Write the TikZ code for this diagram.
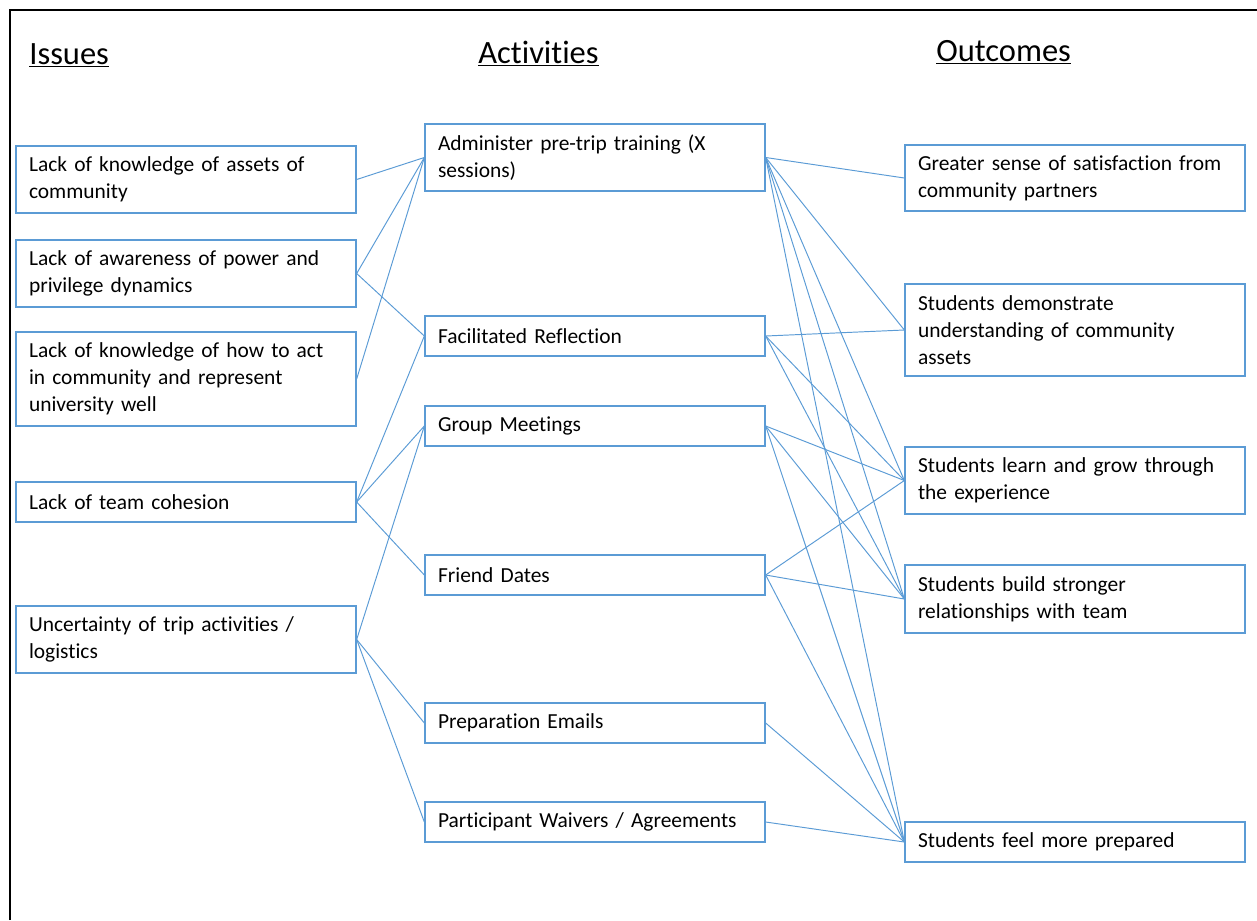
\documentclass[tikz,border=0pt]{standalone}
\usepackage{fontspec}
\setmainfont{Carlito}[Ligatures=NoCommon]
\definecolor{lineblue}{RGB}{91,155,213}

\begin{document}
\begin{tikzpicture}[x=0.02cm, y=-0.02cm,
	box/.style={draw=lineblue, line width=0.8pt, text width=6.28cm, inner xsep=0.26cm, inner ysep=0pt, align=left, font=\fontsize{12.2}{15.3}\selectfont},
	head/.style={anchor=base west, inner sep=0pt, font=\fontsize{18.5}{22}\selectfont},
	link/.style={draw=lineblue, line width=0.55pt}]
	\useasboundingbox (0,0) rectangle (1257,920);
	\draw[line width=1.4pt] (10,920) -- (10,10) -- (1257,10); %frame, cut by the page
	\node[head]		(issues)		at (29,64)	{\underline{Issues}};
	\node[head]		(activities)	at (478,63)	{\underline{Activities}};
	\node[head]		(outcomes)		at (936,61)	{\underline{Outcomes}};
	% issues
	\node[box, minimum height=1.34cm]	(1)	at (186,179.5)	{Lack of knowledge of assets of\\community};
	\node[box, minimum height=1.34cm]	(2)	at (186,273.5)	{Lack of awareness of power and\\privilege dynamics};
	\node[box, minimum height=1.88cm]	(3)	at (186,379)	{Lack of knowledge of how to act\\in community and represent\\university well};
	\node[box, minimum height=0.8cm]	(4)	at (186,502)	{Lack of team cohesion};
	\node[box, minimum height=1.34cm]	(5)	at (186,639.5)	{Uncertainty of trip activities /\\logistics};
	% activities
	\node[box, minimum height=1.34cm]	(6)	at (595,157.5)	{Administer pre-trip training (X\\sessions)};
	\node[box, minimum height=0.8cm]	(7)	at (595,336)	{Facilitated Reflection};
	\node[box, minimum height=0.8cm]	(8)	at (595,426)	{Group Meetings};
	\node[box, minimum height=0.8cm]	(9)	at (595,575)	{Friend Dates};
	\node[box, minimum height=0.8cm]	(10)	at (595,723)	{Preparation Emails};
	\node[box, minimum height=0.8cm]	(11)	at (595,822)	{Participant Waivers / Agreements};
	% outcomes
	\node[box, minimum height=1.32cm]	(12)	at (1075,178)	{Greater sense of satisfaction from\\community partners};
	\node[box, minimum height=1.84cm]	(13)	at (1075,330)	{Students demonstrate\\understanding of community\\assets};
	\node[box, minimum height=1.34cm]	(14)	at (1075,480.5)	{Students learn and grow through\\the experience};
	\node[box, minimum height=1.36cm]	(15)	at (1075,599)	{Students build stronger\\relationships with team};
	\node[box, minimum height=0.8cm]	(16)	at (1075,842)	{Students feel more prepared};
	% issues to activities
	\draw[link] (1.east) -- (6.west);
	\draw[link] (2.east) -- (6.west);
	\draw[link] (2.east) -- (7.west);
	\draw[link] (3.east) -- (6.west);
	\draw[link] (4.east) -- (7.west);
	\draw[link] (4.east) -- (8.west);
	\draw[link] (4.east) -- (9.west);
	\draw[link] (5.east) -- (8.west);
	\draw[link] (5.east) -- (10.west);
	\draw[link] (5.east) -- (11.west);
	% activities to outcomes
	\draw[link] (6.east) -- (12.west);
	\draw[link] (6.east) -- (13.west);
	\draw[link] (6.east) -- (14.west);
	\draw[link] (6.east) -- (15.west);
	\draw[link] (6.east) -- (16.west);
	\draw[link] (7.east) -- (13.west);
	\draw[link] (7.east) -- (14.west);
	\draw[link] (7.east) -- (15.west);
	\draw[link] (8.east) -- (14.west);
	\draw[link] (8.east) -- (15.west);
	\draw[link] (8.east) -- (16.west);
	\draw[link] (9.east) -- (14.west);
	\draw[link] (9.east) -- (15.west);
	\draw[link] (9.east) -- (16.west);
	\draw[link] (10.east) -- (16.west);
	\draw[link] (11.east) -- (16.west);
\end{tikzpicture}
\end{document}
